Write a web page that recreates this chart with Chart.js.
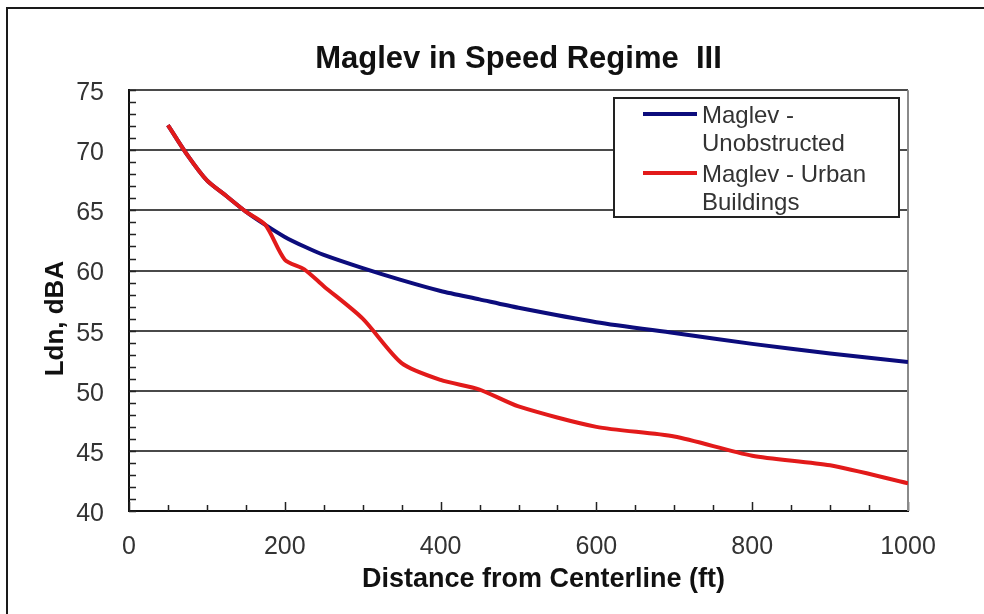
<!DOCTYPE html>
<html>
<head>
<meta charset="utf-8">
<script src="https://cdn.jsdelivr.net/npm/chart.js@4.4.0/dist/chart.umd.min.js"></script>
<style>
  html, body { margin: 0; background: #fff; }
  #frame { position: absolute; left: 6px; top: 7px; width: 1000px; height: 700px;
           border-top: 2px solid #1a1a1a; border-left: 2px solid #1a1a1a; }
  #wrap { position: absolute; left: 0; top: 0; width: 984px; height: 614px; }
</style>
</head>
<body>
<div id="frame"></div>
<div id="wrap"><canvas id="noiseChart" width="984" height="614"></canvas></div>
<script>
// distance from centerline (ft) and Ldn levels (dBA)
const distance = [50, 75, 100, 125, 150, 175, 200, 225, 250, 300, 350, 400, 450, 500, 600, 700, 800, 900, 1000];
const unobstructed = [72.1, 69.6, 67.5, 66.2, 64.9, 63.8, 62.8, 62.0, 61.3, 60.2, 59.2, 58.3, 57.6, 56.9, 55.7, 54.8, 53.9, 53.1, 52.4];
const urbanBuildings = [72.1, 69.6, 67.5, 66.2, 64.9, 63.8, 60.9, 60.1, 58.7, 56.0, 52.3, 50.9, 50.1, 48.7, 47.0, 46.2, 44.6, 43.8, 42.3];

const seriesLabels = ['Maglev - Unobstructed', 'Maglev - Urban Buildings'];
const xTicks = [0, 200, 400, 600, 800, 1000];
const yTicks = [40, 45, 50, 55, 60, 65, 70, 75];

const FONT = '"Liberation Sans", Arial, sans-serif';

function toPoints(xs, ys) {
    return xs.map((x, i) => ({ x: x, y: ys[i] }));
}

// small inward ticks on both axes + grey right edge of the plot
const innerTicks = {
    id: 'innerTicks',
    beforeDatasetsDraw(chart) {
        const { ctx, chartArea: a, scales: { x, y } } = chart;
        ctx.save();
        ctx.strokeStyle = '#222';
        ctx.lineWidth = 1.5;
        ctx.beginPath();
        for (let v = yTicks[0]; v <= yTicks[yTicks.length - 1]; v += 1) {
            const py = Math.round(y.getPixelForValue(v)) + 0.5;
            ctx.moveTo(a.left, py);
            ctx.lineTo(a.left + 7, py);
        }
        for (let v = xTicks[0]; v <= xTicks[xTicks.length - 1]; v += 50) {
            const px = Math.round(x.getPixelForValue(v)) + 0.5;
            const len = v % 200 === 0 ? 9 : 6;
            ctx.moveTo(px, a.bottom);
            ctx.lineTo(px, a.bottom - len);
        }
        ctx.stroke();
        ctx.strokeStyle = '#8a8a8a';
        ctx.lineWidth = 2;
        ctx.beginPath();
        ctx.moveTo(a.right, a.top);
        ctx.lineTo(a.right, a.bottom);
        ctx.stroke();
        ctx.restore();
    }
};

// axis titles, set a little off the plot centre
const axisTitles = {
    id: 'axisTitles',
    afterDraw(chart, args, opts) {
        const { ctx, chartArea: a } = chart;
        ctx.save();
        ctx.fillStyle = '#111';
        ctx.textAlign = 'center';
        ctx.textBaseline = 'middle';
        ctx.font = 'bold 27px ' + FONT;
        ctx.fillText(opts.xText, (a.left + a.right) / 2 + opts.xShift, opts.xY);
        ctx.font = 'bold 26px ' + FONT;
        ctx.translate(opts.yX, (a.top + a.bottom) / 2 + opts.yShift);
        ctx.rotate(-Math.PI / 2);
        ctx.fillText(opts.yText, 0, 0);
        ctx.restore();
    }
};

function wrapText(ctx, text, maxWidth) {
    const words = text.split(' ');
    const lines = [];
    let line = '';
    words.forEach(w => {
        const test = line ? line + ' ' + w : w;
        if (line && ctx.measureText(test).width > maxWidth) {
            lines.push(line);
            line = w;
        } else {
            line = test;
        }
    });
    if (line) lines.push(line);
    return lines;
}

// boxed legend with wrapped labels
const boxLegend = {
    id: 'boxLegend',
    afterDatasetsDraw(chart, args, opts) {
        const { ctx } = chart;
        ctx.save();
        ctx.fillStyle = '#fff';
        ctx.fillRect(opts.x, opts.y, opts.w, opts.h);
        ctx.strokeStyle = '#222';
        ctx.lineWidth = 2;
        ctx.strokeRect(opts.x, opts.y, opts.w, opts.h);
        ctx.font = '24px ' + FONT;
        ctx.textBaseline = 'middle';
        let ty = opts.y + 18;
        chart.data.datasets.forEach(ds => {
            const lines = wrapText(ctx, ds.label, opts.textWidth);
            ctx.strokeStyle = ds.borderColor;
            ctx.lineWidth = 4;
            ctx.beginPath();
            ctx.moveTo(opts.x + 29, ty - 2);
            ctx.lineTo(opts.x + 83, ty - 2);
            ctx.stroke();
            ctx.fillStyle = '#333';
            lines.forEach((t, i) => ctx.fillText(t, opts.x + 88, ty + i * 28));
            ty += lines.length * 28 + 3;
        });
        ctx.restore();
    }
};

new Chart(document.getElementById('noiseChart'), {
    type: 'line',
    data: {
        datasets: [{
            label: seriesLabels[0],
            data: toPoints(distance, unobstructed),
            borderColor: '#0c0c7c',
            borderWidth: 4,
            pointRadius: 0,
            tension: 0.25,
            order: 2
        }, {
            label: seriesLabels[1],
            data: toPoints(distance, urbanBuildings),
            borderColor: '#e21a1a',
            borderWidth: 4,
            pointRadius: 0,
            tension: 0.25,
            order: 1
        }]
    },
    options: {
        responsive: false,
        animation: false,
        layout: { padding: { left: 9, right: 76, top: 0, bottom: 0 } },
        plugins: {
            legend: { display: false },
            tooltip: { enabled: false },
            title: {
                display: true,
                fullSize: false,
                text: 'Maglev in Speed Regime  III',
                color: '#111',
                font: { family: FONT, size: 31, weight: 'bold' },
                padding: { top: 41, bottom: 12 }
            },
            boxLegend: { x: 614, y: 98, w: 285, h: 119, textWidth: 190 },
            axisTitles: {
                xText: 'Distance from Centerline (ft)', xShift: 25, xY: 580,
                yText: 'Ldn, dBA', yX: 56, yShift: 18
            }
        },
        scales: {
            x: {
                type: 'linear',
                min: 0,
                max: 1000,
                afterBuildTicks: s => { s.ticks = xTicks.map(v => ({ value: v })); },
                afterFit: s => { s.height = 103; },
                grid: { display: false, drawTicks: false },
                border: { color: '#111', width: 2 },
                ticks: {
                    color: '#333', padding: 21,
                    font: { family: FONT, size: 25 },
                    callback: v => String(v)
                }
            },
            y: {
                min: 40,
                max: 75,
                afterBuildTicks: s => { s.ticks = yTicks.map(v => ({ value: v })); },
                afterFit: s => { s.width = 120; },
                grid: { color: '#4a4a4a', lineWidth: 2, drawTicks: false },
                border: { color: '#111', width: 2 },
                ticks: { color: '#333', padding: 25, labelOffset: 3, font: { family: FONT, size: 25 } }
            }
        }
    },
    plugins: [innerTicks, boxLegend, axisTitles]
});
</script>
</body>
</html>
